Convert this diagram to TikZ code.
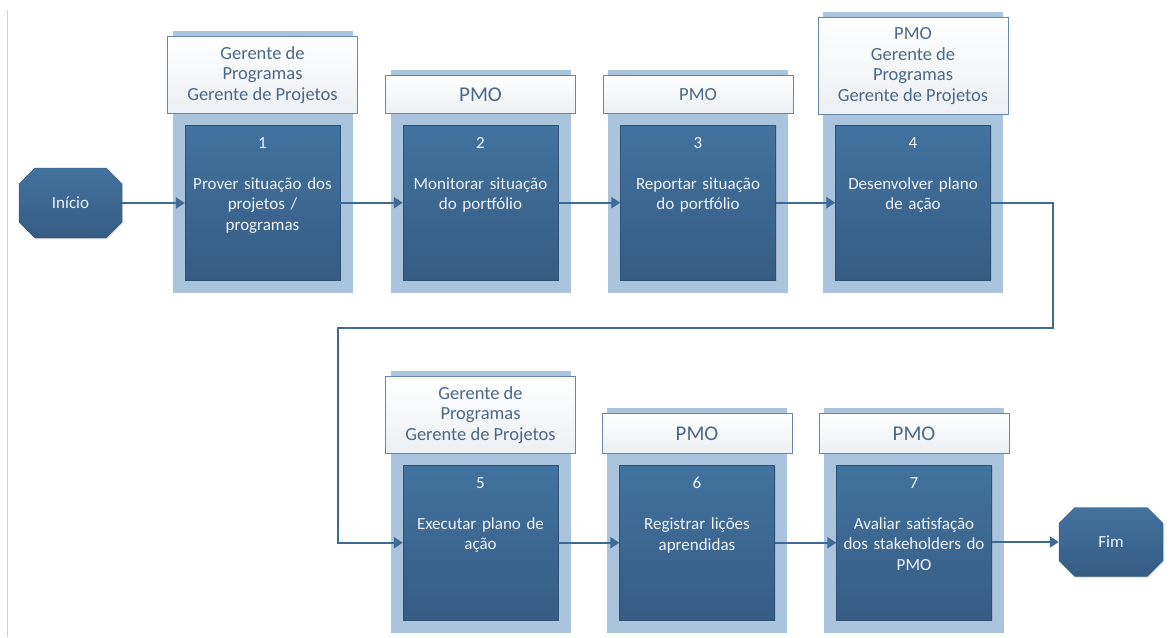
\documentclass[tikz,border=0pt]{standalone}
\usepackage{fontspec}
\setmainfont{Carlito}
\usetikzlibrary{arrows.meta,shapes.misc,shadows}

\definecolor{panelblue}{HTML}{A9C4DC}
\definecolor{stepTop}{HTML}{42729E}
\definecolor{stepBot}{HTML}{365C83}
\definecolor{stepEdge}{HTML}{2E5276}
\definecolor{headEdge}{HTML}{6487AA}
\definecolor{headText}{HTML}{4A6889}
\definecolor{headBot}{HTML}{ECEFF3}
\definecolor{flow}{HTML}{3D6A96}
\definecolor{boxText}{HTML}{EEF3F8}

\tikzset{
  panel/.style={fill=panelblue, draw=none},
  header/.style={draw=headEdge, line width=0.9pt, top color=white, bottom color=headBot,
    text=headText, align=center, inner sep=0pt},
  stepbox/.style={draw=stepEdge, line width=0.4pt, top color=stepTop, bottom color=stepBot,
    minimum width=155pt, minimum height=155pt, inner sep=0pt,
    drop shadow={opacity=0.25, shadow xshift=1.2pt, shadow yshift=-1.2pt}},
  steptext/.style={text=boxText, align=center, text width=150pt, inner sep=0pt,
    font=\fontsize{17}{20.5}\selectfont},
  terminal/.style={chamfered rectangle, chamfered rectangle xsep=10pt, chamfered rectangle ysep=10pt,
    draw=stepEdge, line width=0.4pt, top color=stepTop, bottom color=stepBot,
    text=boxText, font=\fontsize{17}{20}\selectfont, inner sep=0pt,
    drop shadow={opacity=0.25, shadow xshift=1.2pt, shadow yshift=-1.2pt}},
  flowline/.style={draw=flow, line width=2.2pt, -{Triangle[length=9pt,width=11pt]}},
  hmulti/.style={font=\fontsize{18.5}{20.7}\selectfont},
  hsingle/.style={font=\fontsize{21}{22}\selectfont},
  hsmall/.style={font=\fontsize{18.5}{20}\selectfont},
}

% one process step
% #1 name, #2 centre x, #3 header top, #4 header bottom, #5 box top, #6 panel bottom,
% #7 header style, #8 header text, #9 step text
\newcommand{\procstep}[9]{%
  \fill[panel] (#2-90,#3-5) rectangle (#2+90,#6);
  \node[header, #7, minimum width=190pt, minimum height={(#4-#3)*1pt}, anchor=north]
    (h#1) at (#2,#3) {#8};
  \node[stepbox, anchor=north] (s#1) at (#2,#5) {};
  \node[steptext, anchor=north] (t#1) at (#2,#5+12) {#9};
}

\begin{document}
\begin{tikzpicture}[x=1pt,y=-1pt]
\useasboundingbox (0,0) rectangle (1174,637);

% thin rule at the left edge
\draw[draw=black!18, line width=0.8pt] (7,10) -- (7,637);

% first row
\procstep{1}{262.5}{36}{113}{125}{293}{hmulti}{Gerente de\\Programas\\Gerente de Projetos}{1\\[20.5pt]Prover situação dos\\projetos /\\programas}
\procstep{2}{480.5}{75}{113}{125}{293}{hsingle}{PMO}{2\\[20.5pt]Monitorar situação\\do portfólio}
\procstep{3}{698}{75}{113}{125}{293}{hsmall}{PMO}{3\\[20.5pt]Reportar situação\\do portfólio}
\procstep{4}{913}{17}{114}{125}{293}{hmulti}{PMO\\Gerente de\\Programas\\Gerente de Projetos}{4\\[20.5pt]Desenvolver plano\\de ação}

% second row
\procstep{5}{480.5}{376}{453}{465}{633}{hmulti}{Gerente de\\Programas\\Gerente de Projetos}{5\\[20.5pt]Executar plano de\\ação}
\procstep{6}{697}{413}{453}{465}{633}{hsingle}{PMO}{6\\[20.5pt]Registrar lições\\aprendidas}
\procstep{7}{914}{413}{453}{465}{633}{hsingle}{PMO}{7\\[20.5pt]Avaliar satisfação\\dos stakeholders do\\PMO}

% start and end
\node[terminal, minimum width=103pt, minimum height=70pt] (inicio) at (70.5,203) {Início};
\node[terminal, minimum width=104pt, minimum height=69pt] (fim) at (1111,542) {Fim};

% turning points of the connector between the rows
\coordinate (turnR) at (1053,328);
\coordinate (turnL) at (338,328);

% flow
\draw[flowline] (inicio.east) -- (s1.west |- inicio.east);
\draw[flowline] (s1.east) -- (s2.west);
\draw[flowline] (s2.east) -- (s3.west);
\draw[flowline] (s3.east) -- (s4.west);
\draw[flowline] (s4.east) -| (turnR) -- (turnL) |- (s5.west);
\draw[flowline] (s5.east) -- (s6.west);
\draw[flowline] (s6.east) -- (s7.west);
\draw[flowline] (s7.east |- fim.west) -- (fim.west);
\end{tikzpicture}
\end{document}
